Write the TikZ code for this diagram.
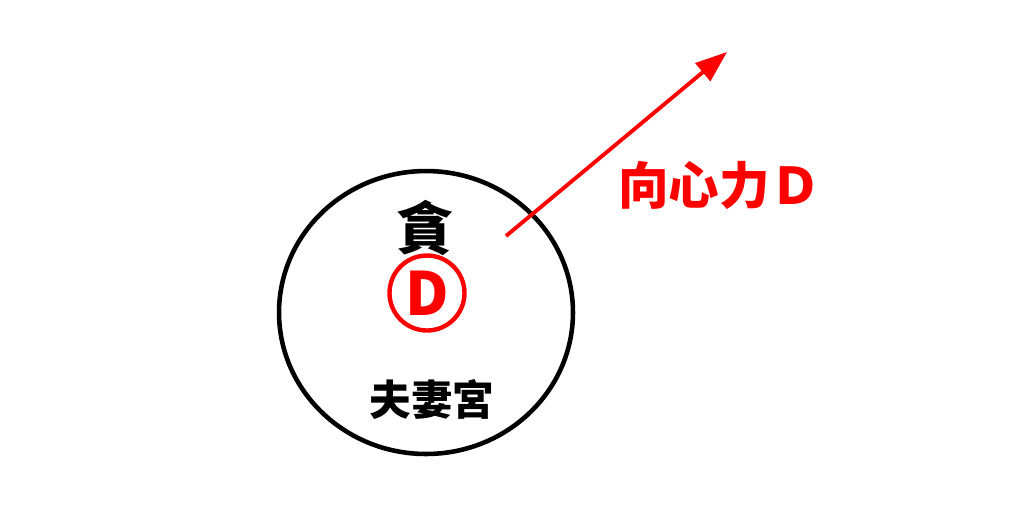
\documentclass[tikz,border=0pt]{standalone}
\usepackage{fontspec}
\usetikzlibrary{arrows.meta,shapes.geometric}
\newfontfamily\cjk{Noto Sans CJK TC}
\definecolor{forcered}{RGB}{255,0,0}

\begin{document}
\begin{tikzpicture}[x=0.02cm, y=-0.02cm]
        \useasboundingbox (0, 0) rectangle (1014, 515);
        \node[draw, ellipse, line width = 2.6pt, minimum width = 5.88cm, minimum height = 5.66cm, inner sep = 0pt] (palace) at (426, 312.5) {};
        \node at (425, 228) (star) {\cjk\fontsize{32.5pt}{32.5pt}\selectfont\bfseries 貪};
        \node[draw = forcered, circle, line width = 2.5pt, minimum size = 1.5cm, inner sep = 0pt, text = forcered] at (427, 293) (mark) {\cjk\fontsize{34pt}{34pt}\selectfont\bfseries D};
        \node at (432, 399) (name) {\cjk\fontsize{23.7pt}{23.7pt}\selectfont\bfseries 夫妻宮};
        \coordinate (tail) at (506, 236);
        \coordinate (head) at (727, 52);
        \draw[forcered, line width = 2.2pt, -{Triangle[length = 18pt, width = 13pt]}] (tail) -- (head);
        \node[text = forcered, anchor = west] at (612, 185) (force) {\cjk\fontsize{28.8pt}{28.8pt}\selectfont\bfseries 向心力Ｄ};
    \end{tikzpicture}
\end{document}
